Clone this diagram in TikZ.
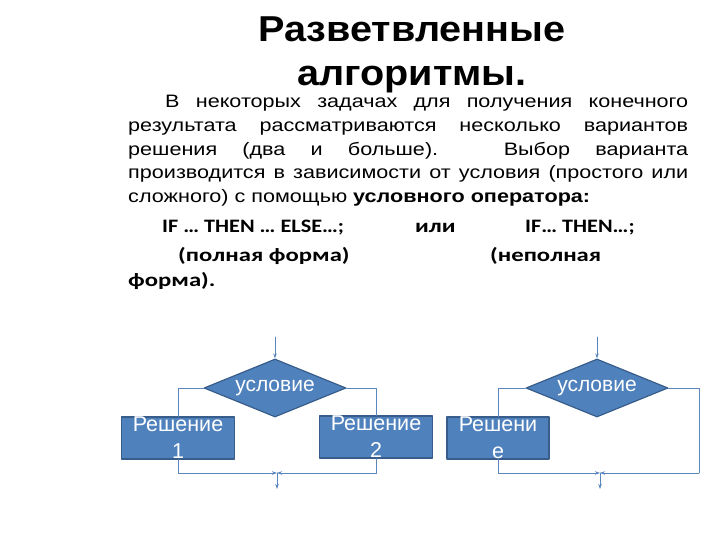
\documentclass[tikz,border=0pt]{standalone}
\usepackage{fontspec}
\setmainfont{Liberation Sans}[FakeStretch=1.2]
\newfontfamily\titlefont{Liberation Sans}[FakeStretch=1.1]
\newfontfamily\shapefont{Liberation Sans}
\newfontfamily\calfont{Carlito}[FakeStretch=1.17]
\newfontfamily\calwide{Carlito}[FakeStretch=1.3]
\usetikzlibrary{shapes.geometric,arrows.meta}
\definecolor{boxblue}{HTML}{4F81BD}
\definecolor{boxedge}{HTML}{385D8A}
\definecolor{linkblue}{HTML}{5A86BE}
\tikzset{
  cond/.style={diamond,aspect=2.45,fill=boxblue,draw=boxedge,line width=1.2pt,inner sep=0pt,
    minimum width=142pt,minimum height=58pt,text=white,font=\shapefont\fontsize{21}{27}\selectfont},
  sol/.style={rectangle,fill=boxblue,draw=boxedge,line width=1.2pt,inner sep=0pt,
    minimum width=113pt,minimum height=42pt,text=white,align=center,
    font=\shapefont\fontsize{21.5}{27}\selectfont},
  flow/.style={draw=linkblue,line width=0.8pt},
  tip/.style={-{Stealth[length=5pt,width=3.5pt]}},
  plain/.style={anchor=base west,inner sep=0pt}
}
\begin{document}
\begin{tikzpicture}[line cap=round,line join=round,x=1pt,y=-1pt]
  \useasboundingbox[fill=white] (0,0) rectangle (720,540);
  % title and text
  \node[align=center,font=\titlefont\fontsize{36}{44}\selectfont\bfseries,anchor=north] (title) at (412,13)
    {Разветвленные\\алгоритмы.};
  \node[align=left,anchor=north west,inner sep=0pt,font=\fontsize{18}{23.8}\selectfont] (body) at (128,95)
    {\hspace*{37pt}\makebox[523pt][s]{В некоторых задачах для получения конечного}\\
     \makebox[560pt][s]{результата рассматриваются несколько вариантов}\\
     \makebox[560pt][s]{решения (два и больше). Выбор варианта}\\
     \makebox[560pt][s]{производится в зависимости от условия (простого или}\\
     сложного) с помощью \textbf{условного оператора:}};
  \begin{scope}[font=\calfont\bfseries\fontsize{19}{24}\selectfont]
    \node[plain] (full) at (162,233) {IF \dots\ THEN \dots\ ELSE\dots;};
    \node[plain,font=\calwide\bfseries\fontsize{19}{24}\selectfont] (orword) at (415,233) {или};
    \node[plain] (part) at (525,233) {IF\dots\ THEN\dots;};
  \end{scope}
  \begin{scope}[font=\calwide\bfseries\fontsize{19}{24}\selectfont]
    \node[plain] (fullname) at (178,261) {(полная форма)};
    \node[plain] (partname) at (490,261) {(неполная};
    \node[plain] (partname2) at (128,286) {форма).};
  \end{scope}
  % full form
  \node[cond] (c1) at (275,388) {условие};
  \node[sol] (s1) at (178,438) {Решение\\1};
  \node[sol] (s2) at (376,437) {Решение\\2};
  \coordinate (in1) at (275,337);
  \coordinate (j1) at (277,473);
  \coordinate (out1) at (277,489);
  \draw[flow,tip] (in1) -- (c1.north);
  \draw[flow] (c1.west) -| (s1.north);
  \draw[flow] (c1.east) -| (s2.north);
  \draw[flow,tip] (s1.south) |- (j1);
  \draw[flow,tip] (s2.south) |- (j1);
  \draw[flow,tip] (j1) -- (out1);
  % short form
  \node[cond] (c2) at (597,388) {условие};
  \node[sol,minimum width=102pt] (s3) at (498,438) {Решени\\е};
  \coordinate (in2) at (597,337);
  \coordinate (r2) at (699,473);
  \coordinate (j2) at (600,473);
  \coordinate (out2) at (600,489);
  \draw[flow,tip] (in2) -- (c2.north);
  \draw[flow] (c2.west) -| (s3.north);
  \draw[flow] (c2.east) -| (r2);
  \draw[flow,tip] (r2) -- (j2);
  \draw[flow,tip] (s3.south) |- (j2);
  \draw[flow,tip] (j2) -- (out2);
\end{tikzpicture}
\end{document}
